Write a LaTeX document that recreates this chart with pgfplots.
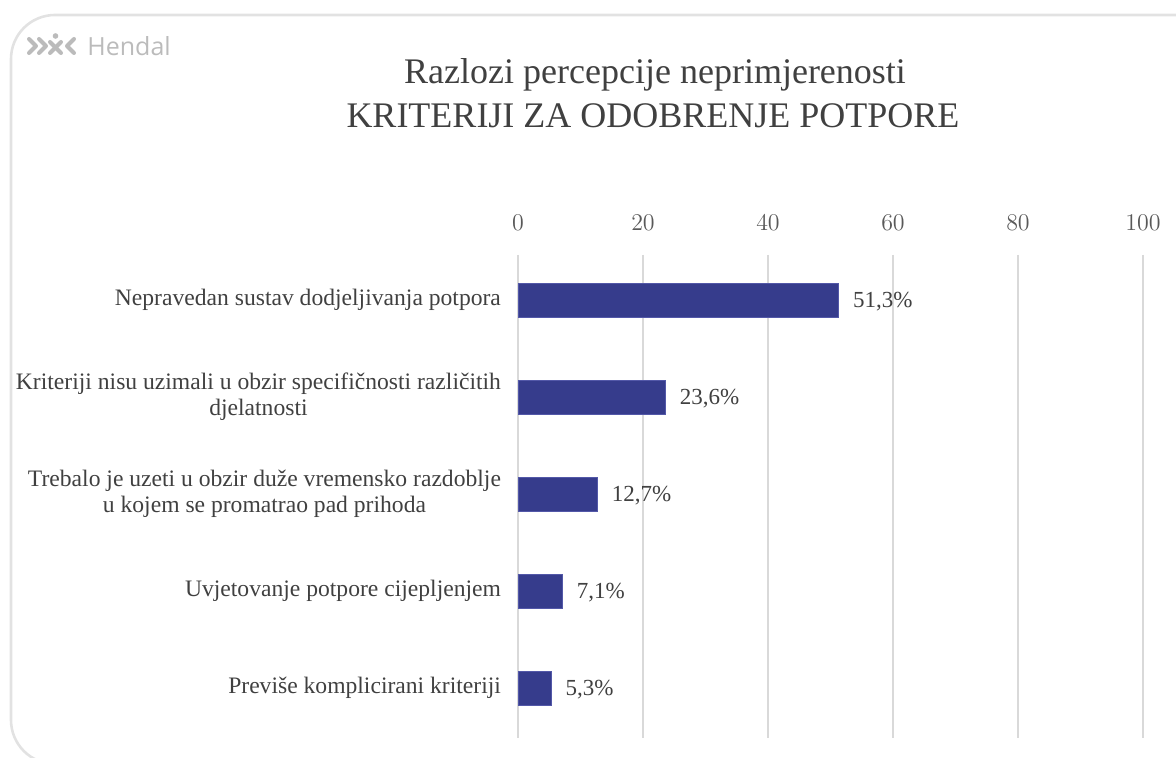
\documentclass[border=0pt]{standalone}
\usepackage{fontspec}
\setmainfont{Liberation Serif}
\newfontfamily\logofont{Open Sans}
\usepackage{pgfplots}
\pgfplotsset{compat=1.18}
\definecolor{barblue}{HTML}{363C8C}
\definecolor{baredge}{HTML}{5358A8}
\definecolor{txt}{HTML}{404040}
\definecolor{ticktxt}{HTML}{595959}
\definecolor{gridc}{HTML}{D9D9D9}
\definecolor{frame}{HTML}{E2E2E2}
\definecolor{logo}{HTML}{BBBBBB}

\begin{document}
\begin{tikzpicture}[x=0.5pt,y=0.5pt]
% canvas 1176 x 758 px, y measured from the bottom
\path[use as bounding box] (0,0) rectangle (1176,758);
\clip (0,0) rectangle (1176,758);
\draw[frame, line width=1.3pt, rounded corners=22] (1200,-6) -- (11,-6) -- (11,743) -- (1200,743);

% logo
\begin{scope}[logo, line width=2pt, line cap=round, line join=round]
  \draw (29,719) -- (36,712) -- (29,705);
  \draw (39,719) -- (46,712) -- (39,705);
  \draw (50,716) -- (61,705);
  \draw (50,705) -- (61,716);
  \fill (55.5,722) circle (2.8);
  \draw (74,719) -- (67,712) -- (74,705);
\end{scope}
\node[anchor=base west, inner sep=0pt, text=logo, font=\logofont\fontsize{12.5}{12.5}\selectfont] at (87,702) {Hendal};

% title
\node[text=txt, font=\fontsize{18}{18}\selectfont] at (655,683) {Razlozi percepcije neprimjerenosti};
\node[text=txt, font=\fontsize{18}{18}\selectfont] at (653,642) {KRITERIJI ZA ODOBRENJE POTPORE};

\begin{axis}[
  at={(259pt,10pt)}, anchor=south west,
  scale only axis, width=312.5pt, height=241.5pt,
  xbar, bar width=17pt,
  xmin=0, xmax=100, xtick={0,20,40,60,80,100},
  ymin=-0.464, ymax=4.515, y dir=reverse,
  ytick={0,1,2,3,4},
  yticklabels={
    {Nepravedan sustav dodjeljivanja potpora},
    {Kriteriji nisu uzimali u obzir specifičnosti različitih\\djelatnosti},
    {Trebalo je uzeti u obzir duže vremensko razdoblje\\u kojem se promatrao pad prihoda},
    {Uvjetovanje potpore cijepljenjem},
    {Previše komplicirani kriteriji}},
  xticklabel pos=upper,
  axis line style={draw=none},
  major tick length=0pt,
  xmajorgrids, grid style={gridc, line width=1pt},
  xticklabel style={font=\fontsize{11.5}{11.5}\selectfont, text=ticktxt, yshift=8.5pt},
  yticklabel style={font=\fontsize{11.8}{13}\selectfont, text=txt, align=center, xshift=-5pt},
  nodes near coords,
  point meta=explicit symbolic,
  every node near coord/.append style={anchor=west, xshift=3.7pt, yshift=-1pt,
    font=\fontsize{11.5}{11.5}\selectfont, text=txt},
  clip=false,
]
  \addplot[fill=barblue, draw=baredge, line width=0.4pt] coordinates {
    (51.3,0) [51,3\%]
    (23.6,1) [23,6\%]
    (12.7,2) [12,7\%]
    (7.1,3) [7,1\%]
    (5.3,4) [5,3\%]
  };
\end{axis}
\end{tikzpicture}
\end{document}
